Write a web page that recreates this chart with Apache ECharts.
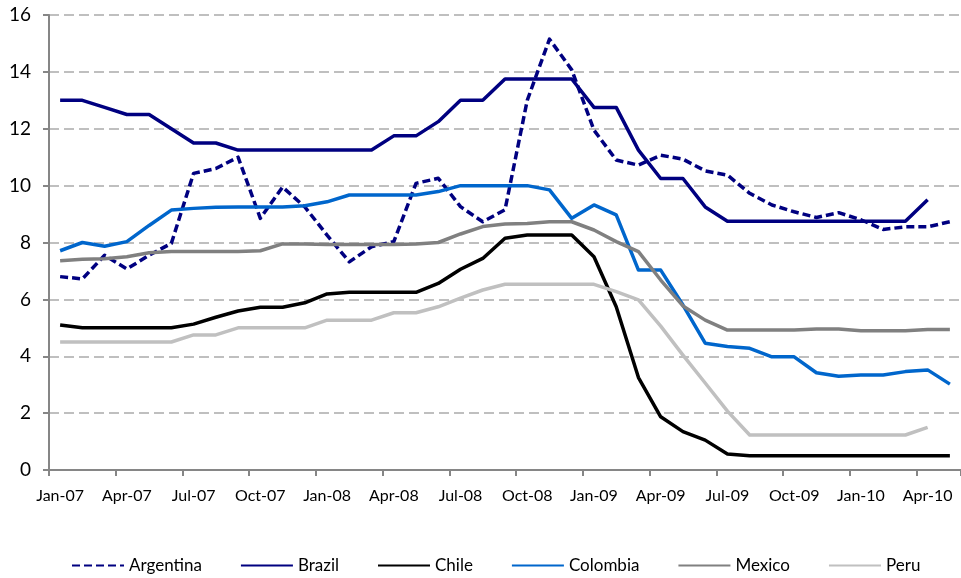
<!DOCTYPE html>
<html>
<head>
<meta charset="utf-8">
<script src="https://cdn.jsdelivr.net/npm/echarts@6/dist/echarts.min.js"></script>
<style>
  html, body { margin: 0; padding: 0; background: #fff; }
  #chart { width: 961px; height: 578px; }
</style>
</head>
<body>
<div id="chart"></div>
<script>
// monthly, Jan-07 .. May-10
const months = [
  'Jan-07', 'Feb-07', 'Mar-07', 'Apr-07', 'May-07', 'Jun-07', 'Jul-07', 'Aug-07', 'Sep-07', 'Oct-07', 'Nov-07', 'Dec-07',
  'Jan-08', 'Feb-08', 'Mar-08', 'Apr-08', 'May-08', 'Jun-08', 'Jul-08', 'Aug-08', 'Sep-08', 'Oct-08', 'Nov-08', 'Dec-08',
  'Jan-09', 'Feb-09', 'Mar-09', 'Apr-09', 'May-09', 'Jun-09', 'Jul-09', 'Aug-09', 'Sep-09', 'Oct-09', 'Nov-09', 'Dec-09',
  'Jan-10', 'Feb-10', 'Mar-10', 'Apr-10', 'May-10'
];

const argentina = [6.8, 6.72, 7.55, 7.07, 7.55, 7.97, 10.43, 10.6, 11.0, 8.85, 9.95, 9.25,
  8.26, 7.32, 7.85, 8.03, 10.08, 10.26, 9.26, 8.73, 9.15, 13.0, 15.15, 14.07,
  11.95, 10.9, 10.72, 11.07, 10.93, 10.52, 10.37, 9.73, 9.32, 9.08, 8.88, 9.05,
  8.8, 8.46, 8.55, 8.55, 8.73];
const brazil = [13.0, 13.0, 12.75, 12.5, 12.5, 12.0, 11.5, 11.5, 11.25, 11.25, 11.25, 11.25,
  11.25, 11.25, 11.25, 11.75, 11.75, 12.25, 13.0, 13.0, 13.75, 13.75, 13.75, 13.75,
  12.75, 12.75, 11.25, 10.25, 10.25, 9.25, 8.75, 8.75, 8.75, 8.75, 8.75, 8.75,
  8.75, 8.75, 8.75, 9.5, null];
const chile = [5.1, 5.0, 5.0, 5.0, 5.0, 5.0, 5.13, 5.37, 5.59, 5.72, 5.72, 5.88,
  6.19, 6.25, 6.25, 6.25, 6.25, 6.56, 7.06, 7.44, 8.15, 8.26, 8.26, 8.26,
  7.5, 5.74, 3.25, 1.87, 1.35, 1.05, 0.56, 0.5, 0.5, 0.5, 0.5, 0.5,
  0.5, 0.5, 0.5, 0.5, 0.5];
const colombia = [7.71, 8.0, 7.87, 8.03, 8.6, 9.14, 9.2, 9.24, 9.25, 9.25, 9.25, 9.29,
  9.43, 9.67, 9.67, 9.67, 9.67, 9.79, 10.0, 10.0, 10.0, 10.0, 9.85, 8.85,
  9.32, 8.97, 7.03, 7.03, 5.8, 4.46, 4.34, 4.28, 3.98, 3.98, 3.42, 3.3,
  3.34, 3.34, 3.46, 3.52, 3.02];
const mexico = [7.36, 7.41, 7.43, 7.5, 7.64, 7.68, 7.68, 7.68, 7.68, 7.71, 7.95, 7.95,
  7.93, 7.93, 7.93, 7.93, 7.95, 8.0, 8.3, 8.56, 8.65, 8.67, 8.73, 8.73,
  8.44, 8.03, 7.68, 6.68, 5.77, 5.27, 4.92, 4.92, 4.92, 4.92, 4.96, 4.96,
  4.9, 4.9, 4.9, 4.94, 4.94];
const peru = [4.5, 4.5, 4.5, 4.5, 4.5, 4.5, 4.75, 4.75, 5.0, 5.0, 5.0, 5.0,
  5.27, 5.27, 5.27, 5.53, 5.53, 5.74, 6.04, 6.33, 6.53, 6.53, 6.53, 6.53,
  6.53, 6.27, 5.98, 5.06, 4.04, 3.06, 2.07, 1.23, 1.23, 1.23, 1.23, 1.23,
  1.23, 1.23, 1.23, 1.5, null];

const FONT = 'Lato';

function line(name, data, color, type) {
  return {
    name: name,
    type: 'line',
    data: data,
    symbol: 'none',
    smooth: false,
    connectNulls: false,
    lineStyle: { color: color, width: 3.5, type: type || 'solid', cap: 'butt', join: 'round' },
    itemStyle: { color: color },
    emphasis: { disabled: true }
  };
}

const chart = echarts.init(document.getElementById('chart'));
chart.setOption({
  animation: false,
  backgroundColor: '#fff',
  textStyle: { fontFamily: FONT },
  grid: { left: 49, top: 15, width: 912, height: 455, containLabel: false },
  legend: {
    left: 66,
    top: 552,
    itemWidth: 52,
    itemHeight: 14,
    itemGap: 38,
    itemStyle: { opacity: 0 },
    textStyle: { fontFamily: FONT, fontSize: 17, color: '#000' },
    data: ['Argentina', 'Brazil', 'Chile', 'Colombia', 'Mexico', 'Peru']
  },
  xAxis: {
    type: 'category',
    data: months,
    boundaryGap: true,
    axisLine: { lineStyle: { color: '#868686', width: 2 } },
    axisTick: { show: true, interval: 2, length: 6, lineStyle: { color: '#868686', width: 2 } },
    axisLabel: { interval: 2, margin: 18, fontFamily: FONT, fontSize: 16, color: '#000' },
    splitLine: { show: false }
  },
  yAxis: {
    type: 'value',
    min: 0,
    max: 16,
    interval: 2,
    axisLine: { show: true, lineStyle: { color: '#868686', width: 2 } },
    axisTick: { show: true, inside: false, length: 6, lineStyle: { color: '#868686', width: 2 } },
    axisLabel: { margin: 18, fontFamily: FONT, fontSize: 19, color: '#000' },
    splitLine: { show: true, lineStyle: { color: '#BFBFBF', width: 2, type: [10, 5] } }
  },
  series: [
    line('Argentina', argentina, '#000080', [8, 4]),
    line('Brazil', brazil, '#000080'),
    line('Chile', chile, '#000000'),
    line('Colombia', colombia, '#0066CC'),
    line('Mexico', mexico, '#808080'),
    line('Peru', peru, '#C0C0C0')
  ]
});
</script>
</body>
</html>
